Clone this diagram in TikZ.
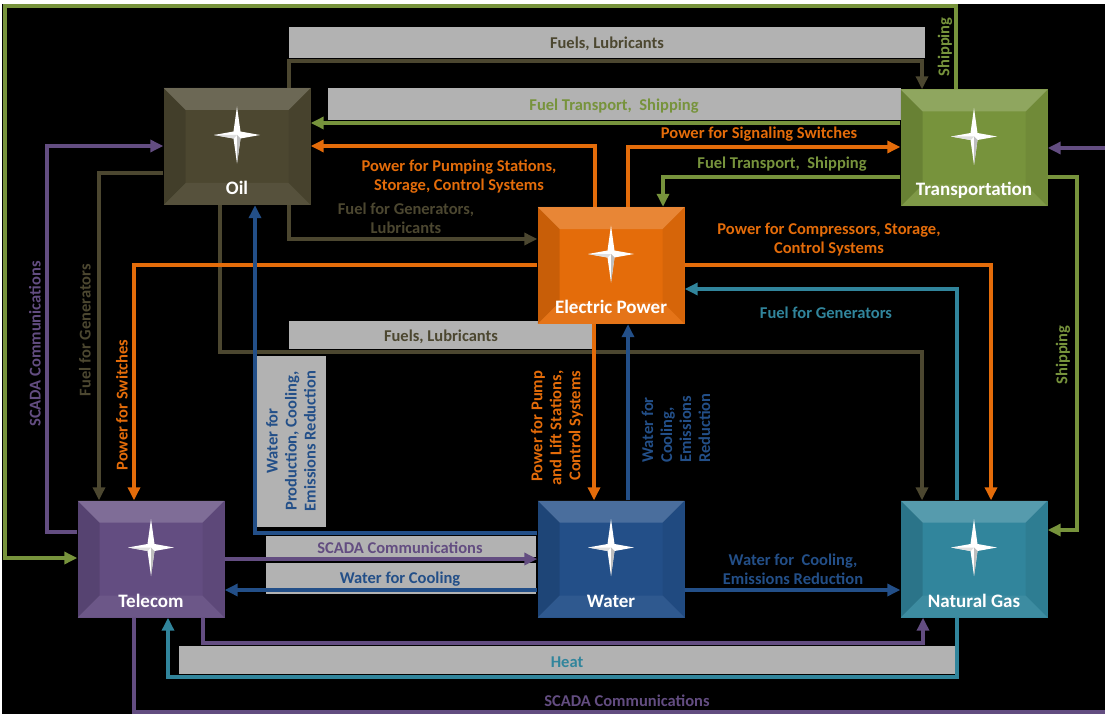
\documentclass[tikz,border=0pt]{standalone}
\usepackage{fontspec}
\setmainfont{Carlito}
\usetikzlibrary{arrows.meta}

\definecolor{oilc}{RGB}{76,71,48}
\definecolor{powerc}{RGB}{228,108,10}
\definecolor{transc}{RGB}{119,147,60}
\definecolor{telec}{RGB}{99,77,129}
\definecolor{waterc}{RGB}{35,79,136}
\definecolor{gasc}{RGB}{49,133,156}
\definecolor{shelfc}{RGB}{178,178,178}

\newcommand{\tagfont}{\fontsize{16.5}{19}\selectfont\bfseries}
\newcommand{\boxfont}{\fontsize{19}{22}\selectfont\bfseries}

\tikzset{
  sector/.style={fill=#1, minimum width=147pt, minimum height=117pt, inner sep=0pt},
  sectorname/.style={text=white, font=\boxfont, anchor=base, inner sep=0pt},
  link/.style={draw=#1, line width=3.8pt, -{Triangle[length=13pt,width=12pt]}},
  tag/.style={text=#1, font=\tagfont, align=center, inner sep=1pt},
  shelf/.style={fill=shelfc}
}

\begin{document}
\begin{tikzpicture}[x=1pt,y=-1pt]
        % Page and background
        \useasboundingbox (0,0) rectangle (1105,714);
        \clip (0,0) rectangle (1105,714);
        \fill[white] (0,0) rectangle (1105,714);
        \fill[black] (2,4) rectangle (1105,714);

        % Grey label shelves
        \fill[shelf] (289,27) rectangle (925,58);
        \fill[shelf] (328,88) rectangle (901,120);
        \fill[shelf] (289,321) rectangle (593,349);
        \fill[shelf] (257,356) rectangle (326,527);
        \fill[shelf] (266,536) rectangle (536,557);
        \fill[shelf] (266,563) rectangle (536,594);
        \fill[shelf] (179,646) rectangle (955,674);

        % Sectors
        \node[sector=oilc] (oil) at (237,146.5) {};
        \node[sector=powerc] (power) at (611,265.5) {};
        \node[sector=transc] (trans) at (974,148) {};
        \node[sector=telec] (tele) at (151,559) {};
        \node[sector=waterc] (water) at (611,559) {};
        \node[sector=gasc] (gas) at (974,559) {};

        % Bevel and star on every sector
        \foreach \s in {oil,power,trans,tele,water,gas}{
          \begin{scope}[shift={(\s.center)}]
            \fill[white,opacity=.18] (-73.5,-58.5) -- (73.5,-58.5) -- (51.5,-36.5) -- (-51.5,-36.5) -- cycle;
            \fill[black,opacity=.12] (-73.5,-58.5) -- (-51.5,-36.5) -- (-51.5,36.5) -- (-73.5,58.5) -- cycle;
            \fill[black,opacity=.06] (73.5,-58.5) -- (51.5,-36.5) -- (51.5,36.5) -- (73.5,58.5) -- cycle;
            \fill[white,opacity=.06] (-73.5,58.5) -- (73.5,58.5) -- (51.5,36.5) -- (-51.5,36.5) -- cycle;
            \fill[white] (0,-40) -- (3.5,-15) -- (23,-11.5) -- (3.5,-8) -- (0,17) -- (-3.5,-8) -- (-23,-11.5) -- (-3.5,-15) -- cycle;
            \fill[gray!50] (0,-11.5) -- (3.5,-8) -- (0,17) -- cycle;
            \fill[gray!25] (0,-11.5) -- (-23,-11.5) -- (-3.5,-8) -- cycle;
          \end{scope}
        }

        % Sector names
        \node[sectorname] (oilname) at ([shift={(0,48)}]oil.center) {Oil};
        \node[sectorname] (powername) at ([shift={(0,48)}]power.center) {Electric Power};
        \node[sectorname] (transname) at ([shift={(0,48)}]trans.center) {Transportation};
        \node[sectorname] (telename) at ([shift={(0,48)}]tele.center) {Telecom};
        \node[sectorname] (watername) at ([shift={(0,48)}]water.center) {Water};
        \node[sectorname] (gasname) at ([shift={(0,48)}]gas.center) {Natural Gas};

        % Oil links
        \draw[link=oilc] (oil.north -| 289,0) -- (289,61) -- (922,61) -- (trans.north -| 922,0);
        \draw[link=oilc] (oil.south -| 289,0) -- (289,239) -- (power.west |- 0,239);
        \draw[link=oilc] (oil.south -| 220,0) -- (220,352) -- (922,352) -- (gas.north -| 922,0);
        \draw[link=oilc] (oil.west |- 0,173) -- (99,173) -- (tele.north -| 99,0);

        % Transportation links
        \draw[link=transc] (trans.west |- 0,123) -- (oil.east |- 0,123);
        \draw[link=transc] (trans.west |- 0,177) -- (663,177) -- (power.north -| 663,0);
        \draw[link=transc] (trans.north -| 956,0) -- (956,6) -- (5,6) -- (5,558) -- (tele.west |- 0,558);
        \draw[link=transc] (trans.east |- 0,177) -- (1077,177) -- (1077,530) -- (gas.east |- 0,530);

        % Electric power links
        \draw[link=powerc] (power.north -| 595,0) -- (595,146) -- (oil.east |- 0,146);
        \draw[link=powerc] (power.north -| 628,0) -- (628,147) -- (trans.west |- 0,147);
        \draw[link=powerc] (power.west |- 0,265) -- (134,265) -- (tele.north -| 134,0);
        \draw[link=powerc] (power.east |- 0,265) -- (991,265) -- (gas.north -| 991,0);
        \draw[link=powerc] (power.south -| 594,0) -- (water.north -| 594,0);

        % Natural gas links
        \draw[link=gasc] (gas.north -| 957,0) -- (957,289) -- (power.east |- 0,289);
        \draw[link=gasc] (gas.south -| 957,0) -- (957,677) -- (168,677) -- (tele.south -| 168,0);

        % Telecom links
        \draw[link=telec] (tele.west |- 0,532) -- (47,532) -- (47,146) -- (oil.west |- 0,146);
        \draw[link=telec] (tele.east |- 0,559) -- (water.west |- 0,559);
        \draw[link=telec] (tele.south -| 203,0) -- (203,643) -- (923,643) -- (gas.south -| 923,0);
        \draw[link=telec] (tele.south -| 134,0) -- (134,712) -- (1125,712) -- (1125,148) -- (trans.east |- 0,148);

        % Water links
        \draw[link=waterc] (water.west |- 0,533) -- (255,533) -- (oil.south -| 255,0);
        \draw[link=waterc] (water.west |- 0,590) -- (tele.east |- 0,590);
        \draw[link=waterc] (water.east |- 0,590) -- (gas.west |- 0,590);
        \draw[link=waterc] (water.north -| 628,0) -- (power.south -| 628,0);

        % Labels on shelves
        \node[tag=oilc] (fuelsTop) at (607,44) {Fuels, Lubricants};
        \node[tag=transc] (transTop) at (614,106) {Fuel Transport,~ Shipping};
        \node[tag=oilc] (fuelsMid) at (441,337) {Fuels, Lubricants};
        \node[tag=waterc, rotate=90] (waterOil) at (291,441) {Water for\\Production, Cooling,\\Emissions Reduction};
        \node[tag=telec] (scadaWater) at (400,548) {SCADA Communications};
        \node[tag=waterc] (waterTele) at (400,579) {Water for Cooling};
        \node[tag=gasc] (heat) at (567,662) {Heat};

        % Free labels
        \node[tag=powerc] (pumpOil) at (459,177) {Power for Pumping Stations,\\Storage, Control Systems};
        \node[tag=powerc] (signal) at (759,134) {Power for Signaling Switches};
        \node[tag=transc] (transPower) at (782,164) {Fuel Transport,~ Shipping};
        \node[tag=oilc] (genPower) at (406,218) {Fuel for Generators,\\Lubricants};
        \node[tag=powerc] (compress) at (829,240) {Power for Compressors, Storage,\\Control Systems};
        \node[tag=gasc] (genGas) at (826,313) {Fuel for Generators};
        \node[tag=waterc] (waterGas) at (793,569) {Water for~ Cooling,\\Emissions Reduction};
        \node[tag=telec] (scadaBottom) at (627,701) {SCADA Communications};

        % Vertical labels
        \node[tag=powerc, rotate=90] (switches) at (122,405) {Power for Switches};
        \node[tag=oilc, rotate=90] (genTele) at (85,330) {Fuel for Generators};
        \node[tag=telec, rotate=90] (scadaOil) at (35,344) {SCADA Communications};
        \node[tag=transc, rotate=90] (shipTop) at (945,47) {Shipping};
        \node[tag=transc, rotate=90] (shipGas) at (1063,355) {Shipping};
        \node[tag=waterc, rotate=90, align=left] (waterPower) at (676,428) {Water for\\Cooling,\\Emissions\\Reduction};
        \node[tag=powerc, rotate=90, align=right] (pumpWater) at (557,428) {Power for Pump\\and Lift Stations,\\Control Systems};
    \end{tikzpicture}
\end{document}
